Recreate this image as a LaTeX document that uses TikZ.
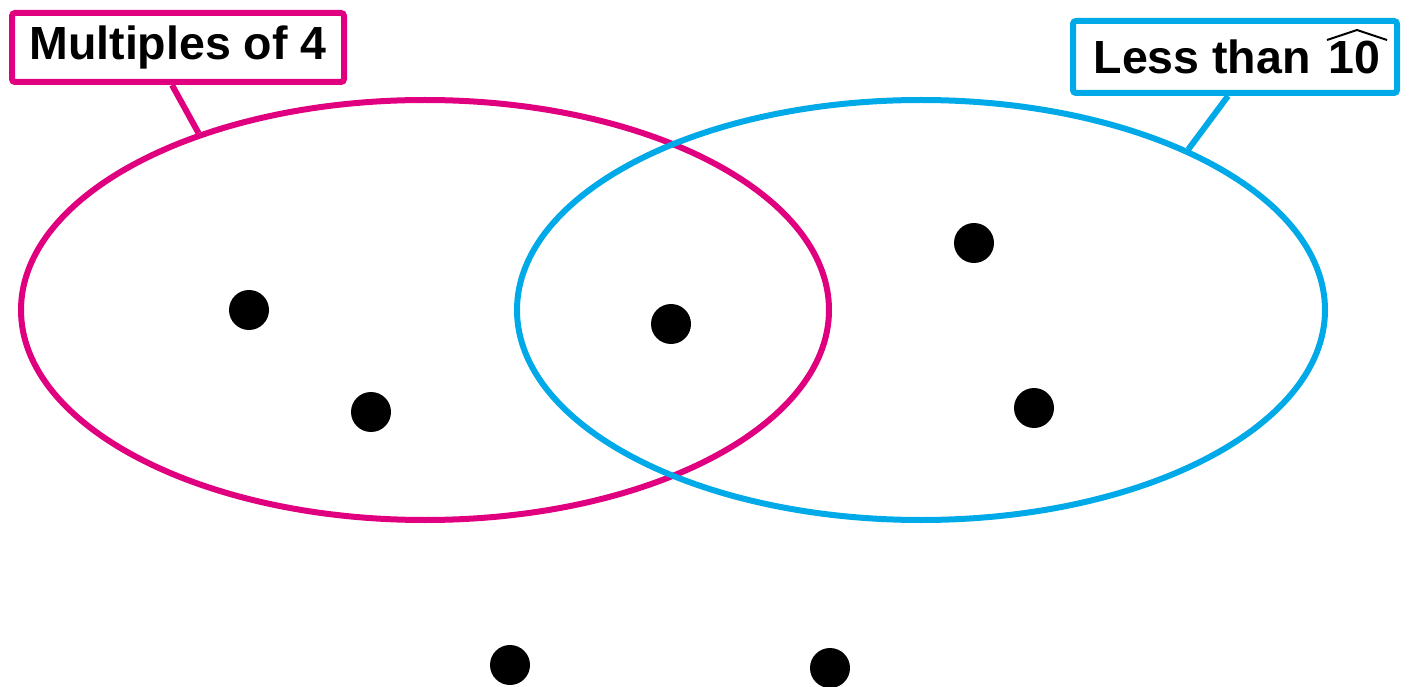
\documentclass[tikz,border=0pt]{standalone}
\usepackage{fontspec}
\setmainfont{Liberation Sans}
\usetikzlibrary{shapes.geometric}

\definecolor{setpink}{HTML}{E0007F}
\definecolor{setblue}{HTML}{00A9E8}

\begin{document}
\begin{tikzpicture}[
    x=1pt, y=-1pt,
    setring/.style={draw, ellipse, line width=6pt, inner sep=0pt,
                    minimum width=808pt, minimum height=420pt},
    tag/.style={draw, rounded corners=3pt, line width=6pt, fill=white,
                font=\fontsize{46.5}{50}\selectfont\bfseries,
                inner sep=0pt},
    dot/.style={circle, fill=black, inner sep=0pt, minimum size=40pt},
    pointer/.style={line width=6pt}
]
\useasboundingbox (0,0) rectangle (1409,687);

% ── Sets ──
\node[setring, setpink] (fourset) at (425,310) {};
\node[setring, setblue] (tenset) at (921,310) {};

% ── Labels ──
\node[tag, draw=setpink, minimum width=332pt, minimum height=69pt]
    (fourtag) at (178,47.5) {Multiples of 4};
\node[tag, draw=setblue, minimum width=324pt, minimum height=72pt]
    (tentag) at (1235,57) {\hspace{4pt}Less than\hspace{18pt}10};
\draw[line width=2pt] (tentag.north east) ++(-73,22) -- ++(30,-10) -- ++(30,10);

\draw[pointer, setpink] (fourtag.south) ++(-6,0) -- (fourset.142);
\draw[pointer, setblue] (tentag.south) ++(-7,0) -- (tenset.31);

% ── Elements ──
\node[dot] (a) at (249,310) {};
\node[dot] (b) at (371,412) {};
\node[dot] (c) at (671,324) {};
\node[dot] (d) at (974,243) {};
\node[dot] (e) at (1034,408) {};
\node[dot] (f) at (510,665) {};
\node[dot] (g) at (830,668) {};

\end{tikzpicture}
\end{document}
